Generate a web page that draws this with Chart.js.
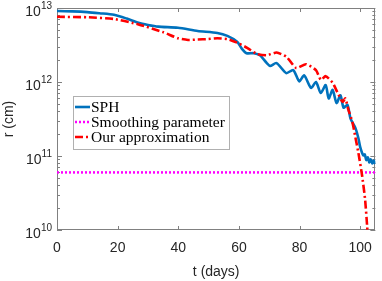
<!DOCTYPE html>
<html>
<head>
<meta charset="utf-8">
<script src="https://cdn.jsdelivr.net/npm/chart.js@4.4.0/dist/chart.umd.min.js"></script>
<style>
  html, body { margin: 0; padding: 0; background: #fff; }
  #wrap { width: 382px; height: 281px; position: relative; }
</style>
</head>
<body>
<div id="wrap"><canvas id="chart" width="382" height="281"></canvas></div>
<script>
// time (days) and radius (cm)
const sphT = [0, 5, 10, 14, 18.8, 23, 26.9, 30, 33.4, 39.9, 46.4, 52.9, 56.2, 59.4, 61, 62.5, 64.9, 66.9,
  69.2, 70.3, 72.4, 75.6, 77.9, 79.9, 81.5, 83.8, 85.4, 87, 88.6, 89.6, 90.9, 92.2, 93.5, 94.5, 95.8,
  96.8, 98.4, 99.4, 100, 101, 101.5, 102, 102.5, 103, 103.5, 104, 104.5, 105];
const sphR = [9.1e12, 9.0e12, 8.8e12, 8.5e12, 8.1e12, 7.2e12, 6.3e12, 5.9e12, 5.6e12, 5.4e12, 4.9e12, 4.6e12,
  4.2e12, 3.5e12, 2.8e12, 2.45e12, 2.45e12, 2.3e12, 1.8e12, 1.65e12, 1.8e12, 1.32e12, 1.45e12, 1.02e12,
  1.23e12, 8.3e11, 1.0e12, 7.1e11, 9.1e11, 6.0e11, 7.8e11, 5.2e11, 6.6e11, 4.5e11, 4.9e11, 3.2e11, 2.4e11,
  1.74e11, 1.32e11, 1.02e11, 1.05e11, 8.8e10, 9.6e10, 8.2e10, 9.0e10, 7.9e10, 8.7e10, 7.8e10];

const approxT = [0, 10, 18.8, 26.9, 35.1, 39.9, 43.2, 46.4, 49.7, 52.9, 56.2, 59.4, 62.7, 65.9, 69.2, 72.4,
  75.6, 78.9, 82.1, 85.4, 87, 88.6, 90.9, 92.5, 94.2, 95.1, 96.1, 97.4, 98.4, 99.4, 100.6, 101.6, 102.3, 102.6];
const approxR = [7.6e12, 7.5e12, 7.1e12, 6.0e12, 4.7e12, 3.9e12, 3.7e12, 3.75e12, 3.8e12, 3.9e12, 3.8e12,
  3.4e12, 2.9e12, 2.4e12, 2.3e12, 2.5e12, 2.2e12, 1.55e12, 1.74e12, 1.45e12, 1.07e12, 1.2e12, 9.8e11,
  7.2e11, 5.4e11, 6.0e11, 4.2e11, 2.9e11, 1.8e11, 1.1e11, 5.5e10, 2.6e10, 1.1e10, 7e9];

const smoothT = [0, 105];
const smoothR = [6e10, 6e10];

const xTicks = [0, 20, 40, 60, 80, 100];
const yTicks = [1e10, 1e11, 1e12, 1e13];
const yExps = ['10', '11', '12', '13'];

const names = ['SPH', 'Smoothing parameter', 'Our approximation'];

const pts = (t, r) => t.map((v, i) => ({ x: v, y: r[i] }));

const axisColor = '#262626';

// box round the axes with inward ticks, MATLAB style
const boxTicks = {
  id: 'boxTicks',
  beforeDatasetsDraw(chart) {
    const c = chart.ctx, a = chart.chartArea;
    const xs = chart.scales.x, ys = chart.scales.y;
    c.save();
    c.strokeStyle = '#808080';
    c.lineWidth = 1;
    c.beginPath();
    xTicks.forEach(v => {
      const px = Math.round(xs.getPixelForValue(v)) + 0.5;
      c.moveTo(px, a.bottom); c.lineTo(px, a.bottom - 4);
      c.moveTo(px, a.top); c.lineTo(px, a.top + 4);
    });
    for (let d = 0; d < yTicks.length; d++) {
      for (let m = 1; m <= 9; m++) {
        const v = yTicks[d] * m;
        if (v > yTicks[yTicks.length - 1]) break;
        const py = Math.round(ys.getPixelForValue(v)) + 0.5;
        const len = m === 1 ? 5 : 3;
        c.moveTo(a.left, py); c.lineTo(a.left + len, py);
        c.moveTo(a.right, py); c.lineTo(a.right - len, py);
      }
    }
    c.stroke();
    c.strokeRect(Math.round(a.left) + 0.5, Math.round(a.top) + 0.5,
      Math.round(a.right - a.left) - 1, Math.round(a.bottom - a.top) - 1);

    // y tick labels as 10 with a raised exponent
    c.fillStyle = axisColor;
    c.textBaseline = 'middle';
    yTicks.forEach((v, i) => {
      const py = ys.getPixelForValue(v);
      const right = a.left - 5;
      c.font = '10px "Liberation Sans"';
      c.textAlign = 'right';
      c.fillText(yExps[i], right, py - 2);
      const ew = c.measureText(yExps[i]).width;
      c.font = '14px "Liberation Sans"';
      c.fillText('10', right - ew, py + 4);
    });
    c.restore();
  }
};

// legend box inside the axes
const boxLegend = {
  id: 'boxLegend',
  afterDraw(chart) {
    const c = chart.ctx, a = chart.chartArea;
    const x0 = a.left + 16, y0 = a.top + 88, w = 156, h = 53;
    c.save();
    c.fillStyle = '#fff';
    c.fillRect(x0, y0, w, h);
    c.strokeStyle = '#b0b0b0';
    c.lineWidth = 1;
    c.strokeRect(x0 + 0.5, y0 + 0.5, w, h);
    chart.data.datasets.forEach((ds, k) => {
      const y = y0 + 11 + k * 15;
      c.beginPath();
      c.strokeStyle = ds.borderColor;
      c.lineWidth = ds.borderWidth;
      c.setLineDash(ds.borderDash || []);
      c.moveTo(x0 + 2, y); c.lineTo(x0 + 17, y);
      c.stroke();
      c.setLineDash([]);
      c.fillStyle = '#000';
      c.font = '15.5px "Liberation Serif"';
      c.textBaseline = 'middle';
      c.fillText(ds.label, x0 + 18, y + 1);
    });
    c.restore();
  }
};

new Chart(document.getElementById('chart'), {
  type: 'line',
  data: {
    datasets: [
      { label: names[0], data: pts(sphT, sphR), borderColor: '#0072BD', borderWidth: 2.6,
        pointRadius: 0, tension: 0.25, order: 2 },
      { label: names[1], data: pts(smoothT, smoothR), borderColor: '#FF00FF', borderWidth: 2.5,
        borderDash: [2, 2], pointRadius: 0, order: 1 },
      { label: names[2], data: pts(approxT, approxR), borderColor: '#FF0000', borderWidth: 2.6,
        borderDash: [8, 3, 2, 3], pointRadius: 0, tension: 0.2, order: 0 }
    ]
  },
  options: {
    responsive: false,
    animation: false,
    events: [],
    layout: { padding: { top: 8, right: 2, left: 0, bottom: 0 } },
    plugins: { legend: { display: false }, tooltip: { enabled: false } },
    scales: {
      x: {
        type: 'linear', min: 0, max: 105,
        grid: { display: false, drawTicks: false },
        border: { display: false },
        afterBuildTicks: s => { s.ticks = xTicks.map(v => ({ value: v })); },
        afterFit: s => { s.height = 51; },
        ticks: { padding: 10, color: axisColor, font: { family: '"Liberation Sans"', size: 14 }, maxRotation: 0 },
        title: { display: true, text: 't (days)', color: axisColor, padding: { top: 4, bottom: 0 },
          font: { family: '"Liberation Sans"', size: 14 } }
      },
      y: {
        type: 'logarithmic', min: 1e10, max: 1e13,
        grid: { display: false, drawTicks: false },
        border: { display: false },
        afterBuildTicks: s => { s.ticks = yTicks.map(v => ({ value: v })); },
        afterFit: s => { s.width = 57; },
        ticks: { display: false },
        title: { display: true, text: 'r (cm)', color: axisColor, padding: { top: 1, bottom: 2 },
          font: { family: '"Liberation Sans"', size: 14 } }
      }
    }
  },
  plugins: [boxTicks, boxLegend]
});
</script>
</body>
</html>
